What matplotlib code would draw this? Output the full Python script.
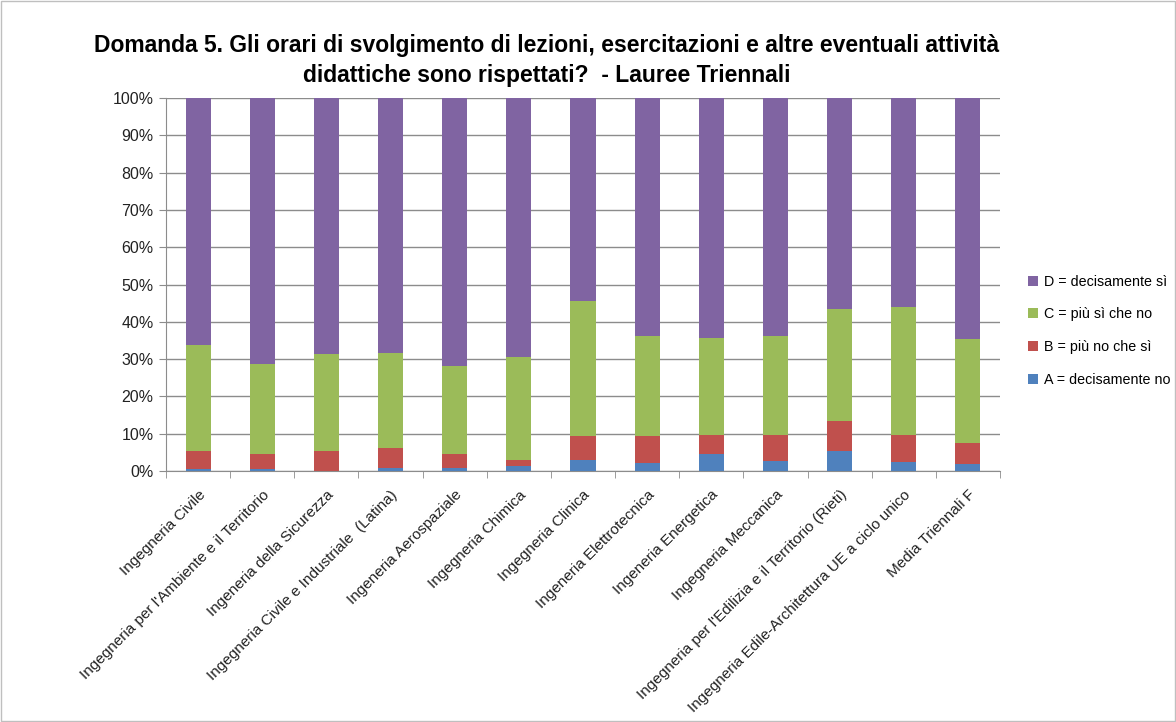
import numpy as np
import matplotlib
matplotlib.use("Agg")
import matplotlib.pyplot as plt
from matplotlib.patches import Rectangle

categories = [
    "Ingegneria Civile",
    "Ingegneria per l'Ambiente e il Territorio",
    "Ingeneria della Sicurezza",
    "Ingegneria Civile e Industriale  (Latina)",
    "Ingeneria Aerospaziale",
    "Ingegneria Chimica",
    "Ingegneria Clinica",
    "Ingeneria Elettrotecnica",
    "Ingeneria Energetica",
    "Ingegneria Meccanica",
    "Ingegneria per l'Edilizia e il Territorio (Rieti)",
    "Ingegneria Edile-Architettura UE a ciclo unico",
    "Media Triennali F",
]

# percentages per answer
a_no = [0.6, 0.5, 0.0, 0.8, 0.8, 1.3, 2.9, 2.1, 4.5, 2.7, 5.5, 2.4, 1.9]
b_piu_no = [4.8, 4.0, 5.4, 5.5, 3.7, 1.6, 6.5, 7.4, 5.2, 7.0, 7.9, 7.3, 5.7]
c_piu_si = [28.4, 24.1, 26.1, 25.4, 23.6, 27.7, 36.2, 26.6, 26.0, 26.4, 30.0, 34.3, 27.7]
d_si = [66.2, 71.4, 68.5, 68.3, 71.9, 69.4, 54.4, 63.9, 64.3, 63.9, 56.6, 56.0, 64.7]

series = [
    ("A = decisamente no", a_no, "#4F81BD"),
    ("B = più no che sì", b_piu_no, "#C0504D"),
    ("C = più sì che no", c_piu_si, "#9BBB59"),
    ("D = decisamente sì", d_si, "#8064A2"),
]

plt.rcParams['font.family'] = ['Liberation Sans', 'DejaVu Sans']

fig = plt.figure(figsize=(11.76, 7.22), dpi=100)
ax = fig.add_axes([0.1412, 0.3476, 0.8503 - 0.1412, 0.8643 - 0.3476])

x = np.arange(len(categories))
bottom = np.zeros(len(categories))
handles = []
for label, vals, col in series:
    vals = np.array(vals)
    h = ax.bar(x, vals, 0.39, bottom=bottom, color=col, label=label, zorder=3)
    handles.append(h)
    bottom += vals

ax.set_xlim(-0.5, len(categories) - 0.5)
ax.set_ylim(0, 100)
ax.set_yticks(np.arange(0, 101, 10))
ax.set_yticklabels(["%d%%" % v for v in range(0, 101, 10)], fontsize=11.5, color="#222222")
ax.yaxis.grid(True, color="#8c8c8c", linewidth=1, zorder=0)
ax.tick_params(axis='y', length=5, color="#8c8c8c", pad=4)

ax.set_xticks(x)
ax.set_xticklabels(categories, rotation=45, ha='right', rotation_mode='anchor',
                   fontsize=11, color="#222222")
ax.tick_params(axis='x', length=0, pad=12)
ax.set_xticks(np.arange(-0.5, len(categories) + 0.5, 1), minor=True)
ax.tick_params(axis='x', which='minor', length=5, color="#8c8c8c")

for side in ['top', 'right']:
    ax.spines[side].set_visible(False)
for side in ['left', 'bottom']:
    ax.spines[side].set_color("#8c8c8c")

fig.text(0.465, 0.937, "Domanda 5. Gli orari di svolgimento di lezioni, esercitazioni e altre eventuali attività",
         ha='center', va='center', fontsize=16.5, fontweight='bold')
fig.text(0.465, 0.895, "didattiche sono rispettati?  - Lauree Triennali",
         ha='center', va='center', fontsize=16.5, fontweight='bold')

leg = fig.legend(handles[::-1], [s[0] for s in series][::-1], loc='center left',
                 bbox_to_anchor=(0.874, 0.542), frameon=False, fontsize=10.3,
                 borderpad=0, borderaxespad=0,
                 handlelength=0.7, handleheight=0.7, handletextpad=0.4, labelspacing=1.3)

fig.patches.append(Rectangle((0.001, 0.001), 0.998, 0.998, transform=fig.transFigure,
                             fill=False, edgecolor="#bfbfbf", linewidth=1))

fig.savefig("out.png", dpi=100)
